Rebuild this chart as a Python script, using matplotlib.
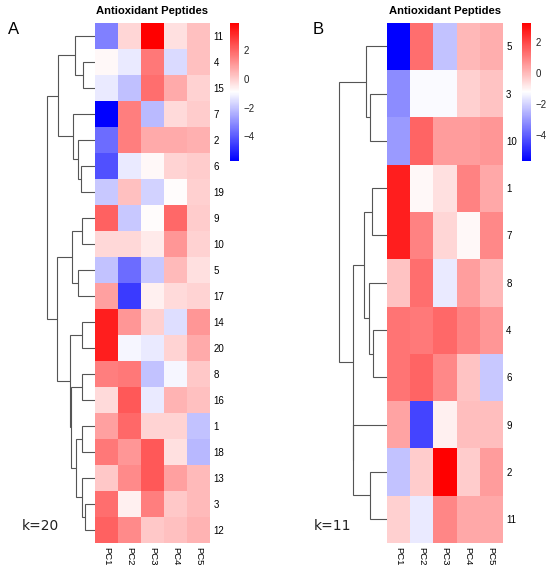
import numpy as np
import matplotlib.pyplot as plt
from matplotlib.colors import LinearSegmentedColormap

W, H, DPI = 550, 570, 100

pcs = ["PC1", "PC2", "PC3", "PC4", "PC5"]
cbar_ticks = [2, 0, -2, -4]

# ----- panel A (k=20), rows in dendrogram order ---------------------------
rows_a = ["11", "4", "15", "7", "2", "6", "19", "9", "10", "5",
          "17", "14", "20", "8", "16", "1", "18", "13", "3", "12"]
vals_a = [
    [-3.30, -0.13,  3.93, -0.32,  0.30],
    [-0.75, -1.30,  1.65, -1.60,  0.30],
    [-1.30, -2.10,  1.85,  0.70, -0.05],
    [-5.72,  1.55, -2.20, -0.20,  0.05],
    [-3.65,  1.55,  0.70,  0.70,  0.60],
    [-4.20, -1.30, -0.75, -0.10,  0.05],
    [-1.95,  0.30, -1.75, -0.85,  0.00],
    [ 2.05, -1.95, -0.85,  1.95,  0.05],
    [-0.15, -0.15, -0.50,  1.10, -0.05],
    [-2.05, -3.65, -1.95,  0.40, -0.30],
    [ 0.90, -4.60, -0.60, -0.20, -0.10],
    [ 3.35,  1.10,  0.00, -1.50,  1.10],
    [ 3.35, -1.05, -1.30, -0.10,  0.70],
    [ 1.55,  1.65, -2.05, -1.05,  0.15],
    [-0.20,  2.25, -1.30,  0.50,  0.30],
    [ 0.90,  1.95, -0.10, -0.10, -2.05],
    [ 1.65,  1.10,  2.25, -0.30, -2.25],
    [ 0.15,  1.30,  2.25,  0.90,  0.40],
    [ 1.85, -0.60,  1.55,  0.15,  0.40],
    [ 2.05,  1.30,  0.15,  0.30,  0.50],
]
# merges: (child, child, height); str = leaf label, int = earlier merge
merges_a = [
    ("4", "15", 11.7),
    ("11", 0, 20.0),
    ("6", "19", 14.3),
    ("2", 2, 16.7),
    ("7", 3, 21.7),
    (1, 4, 36.7),
    ("9", "10", 13.3),
    ("5", "17", 16.7),
    (6, 7, 23.3),
    ("14", "20", 13.3),
    ("8", "16", 13.3),
    ("1", "18", 13.3),
    ("3", "12", 10.0),
    ("13", 12, 13.3),
    (11, 13, 19.3),
    (10, 14, 24.0),
    (9, 15, 25.0),
    (8, 16, 38.3),
    (5, 17, 48.3),
]

# ----- panel B (k=11) ------------------------------------------------------
rows_b = ["5", "3", "10", "1", "7", "8", "4", "6", "9", "2", "11"]
vals_b = [
    [-5.71,  1.30, -2.30,  0.00,  0.20],
    [-3.25, -1.33, -1.33, -0.40, -0.20],
    [-3.00,  1.50,  0.50,  0.50,  0.60],
    [ 2.70, -1.10, -0.70,  0.95,  0.30],
    [ 2.70,  0.95, -0.50, -1.10,  0.85],
    [-0.20,  1.30, -1.60,  0.45,  0.00],
    [ 1.20,  1.10,  1.40,  0.95,  0.60],
    [ 1.20,  1.50,  0.85, -0.20, -2.20],
    [ 0.35, -4.50, -0.95, -0.10, -0.10],
    [-2.30, -0.35,  3.25, -0.35,  0.50],
    [-0.40, -1.60,  0.90,  0.30,  0.30],
]
merges_b = [
    ("3", "10", 17.0),
    ("5", 0, 21.0),
    ("1", "7", 15.3),
    ("4", "6", 14.3),
    ("8", 3, 17.7),
    (2, 4, 22.7),
    ("2", "11", 17.0),
    ("9", 6, 33.7),
    (5, 7, 34.3),
    (1, 8, 47.7),
]

cmap = LinearSegmentedColormap.from_list("bwr_ph", ["#0000FF", "#FFFFFF", "#FF0000"])
LINE = "#555555"


def rect(x0, y0, x1, y1):
    """pixel box (top-left origin) -> figure fraction rect"""
    return [x0 / W, 1 - y1 / H, (x1 - x0) / W, (y1 - y0) / H]


def draw_dendro(ax, leaves, merges):
    pos = {lab: i for i, lab in enumerate(leaves)}
    node_y, node_h = [], []

    def get(c):
        if isinstance(c, str):
            return pos[c], 0.0
        return node_y[c], node_h[c]

    for a, b, h in merges:
        ya, ha = get(a)
        yb, hb = get(b)
        ax.plot([ha, h, h, hb], [ya, ya, yb, yb], color=LINE, lw=0.8,
                solid_capstyle="butt", solid_joinstyle="miter")
        node_y.append((ya + yb) / 2)
        node_h.append(h)


def panel(fig, rows, vals, merges, hx0, hx1, dx0, cx0, letter, lx, k_text, kx):
    data = np.array(vals)
    n = len(rows)
    top, bot = 22.7, 542.7

    ax = fig.add_axes(rect(hx0, top, hx1, bot))
    im = ax.imshow(data, cmap=cmap, aspect="auto",
                   vmin=data.min(), vmax=data.max(), interpolation="nearest")
    ax.set_xticks(np.arange(len(pcs)))
    ax.set_xticklabels(pcs, rotation=270, fontsize=6.8, va="top", ha="center")
    ax.set_yticks(np.arange(n))
    ax.set_yticklabels(rows, fontsize=7)
    ax.yaxis.tick_right()
    ax.tick_params(length=0, pad=2.5)
    ax.tick_params(axis="x", pad=3)
    for s in ax.spines.values():
        s.set_visible(False)

    dax = fig.add_axes(rect(dx0, top, hx0, bot))
    draw_dendro(dax, rows, merges)
    dax.set_ylim(n - 0.5, -0.5)
    dax.set_xlim(hx0 - dx0, 0)
    dax.axis("off")

    cax = fig.add_axes(rect(cx0, top, cx0 + 9, 161))
    cb = fig.colorbar(im, cax=cax, ticks=cbar_ticks)
    cb.outline.set_visible(False)
    cax.tick_params(length=0, labelsize=7, pad=3.5, labelcolor="#222222")
    cax.set_yticklabels(["2", "0", "\u22122", "\u22124"])

    fig.text((hx0 + hx1) / 2 / W, 1 - 11.5 / H, "Antioxidant Peptides",
             ha="center", va="center", fontsize=8.1, fontweight="bold")
    fig.text(lx / W, 1 - 29 / H, letter, ha="center", va="center", fontsize=12)
    fig.text(kx / W, 1 - 526 / H, k_text, ha="left", va="center",
             fontsize=10, family="DejaVu Sans", color="#222222")


plt.rcParams["font.family"] = ["Liberation Sans", "DejaVu Sans"]
fig = plt.figure(figsize=(W / DPI, H / DPI), dpi=DPI)

panel(fig, rows_a, vals_a, merges_a, 95, 210, 0, 230, "A", 14, "k=20", 22)
panel(fig, rows_b, vals_b, merges_b, 387, 502.7, 290, 522, "B", 318, "k=11", 314)

fig.savefig("out.png", dpi=DPI, facecolor="white")
